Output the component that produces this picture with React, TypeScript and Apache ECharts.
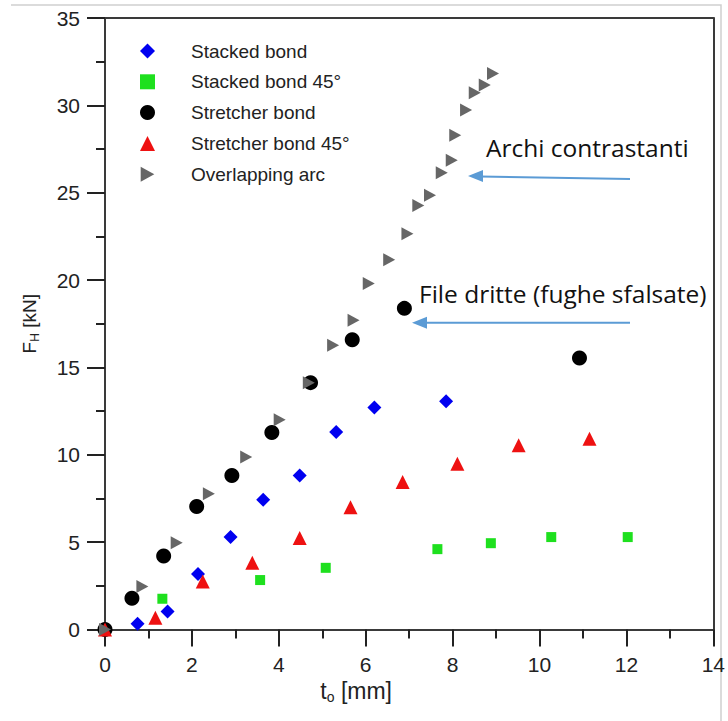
import React, { useEffect, useRef } from "react";
import * as echarts from "echarts";

const stackedBond: number[][] = [
  [0, 0], [0.75, 0.33], [1.44, 1.03], [2.14, 3.17], [2.89, 5.29], [3.64, 7.43],
  [4.48, 8.82], [5.32, 11.3], [6.2, 12.7], [7.85, 13.06],
];
const stackedBond45: number[][] = [
  [0, 0], [1.32, 1.76], [3.57, 2.83], [5.08, 3.53], [7.65, 4.6], [8.88, 4.94],
  [10.27, 5.29], [12.03, 5.29],
];
const stretcherBond: number[][] = [
  [0, 0], [0.62, 1.79], [1.35, 4.2], [2.11, 7.04], [2.92, 8.82], [3.84, 11.28],
  [4.73, 14.13], [5.69, 16.59], [6.89, 18.38], [10.92, 15.54],
];
const stretcherBond45: number[][] = [
  [0, 0], [1.16, 0.67], [2.25, 2.75], [3.39, 3.82], [4.48, 5.23], [5.65, 7.0],
  [6.85, 8.44], [8.11, 9.49], [9.52, 10.54], [11.15, 10.92],
];
const overlappingArc: number[][] = [
  [0, 0], [0.86, 2.46], [1.65, 4.97], [2.39, 7.77], [3.25, 9.87], [4.02, 12.01],
  [4.69, 14.13], [5.25, 16.27], [5.72, 17.7], [6.07, 19.8], [6.54, 21.17],
  [6.96, 22.65], [7.21, 24.27], [7.48, 24.86], [7.75, 26.14], [7.98, 26.86],
  [8.06, 28.29], [8.31, 29.73], [8.51, 30.72], [8.74, 31.16], [8.93, 31.83],
];

const seriesNames = [
  "Stacked bond",
  "Stacked bond 45°",
  "Stretcher bond",
  "Stretcher bond 45°",
  "Overlapping arc",
];

const annotations = ["Archi contrastanti", "File dritte (fughe sfalsate)"];

const RIGHT_TRI = "path://M0,0L10,5.5L0,11Z";

export default function App() {
  const ref = useRef<HTMLDivElement>(null);
  useEffect(() => {
    if (!ref.current) return;
    const chart = echarts.init(ref.current, undefined, { renderer: "svg" });
    const axisFont = "'Liberation Sans', Arial, sans-serif";
    const annFont = "'Open Sans', 'Noto Sans', sans-serif";
    const arrowColor = "#5b9bd5";
    const frame = { color: "#3a3a3a", width: 2 };
    chart.setOption({
      animation: false,
      backgroundColor: "#fff",
      grid: {
        left: 105,
        right: 13,
        top: 18,
        bottom: 91.5,
      },
      legend: {
        orient: "vertical",
        left: 135,
        top: 36,
        itemWidth: 15,
        itemHeight: 15,
        itemGap: 10.8,
        textStyle: {
          fontFamily: axisFont,
          fontSize: 19,
          color: "#222",
          lineHeight: 20,
          padding: [0, 0, 0, 31],
        },
        data: [
          { name: seriesNames[0], icon: "diamond" },
          { name: seriesNames[1], icon: "rect" },
          { name: seriesNames[2], icon: "circle" },
          { name: seriesNames[3], icon: "triangle" },
          { name: seriesNames[4], icon: RIGHT_TRI },
        ],
      },
      xAxis: [
        {
          type: "value",
          min: 0,
          max: 14,
          interval: 2,
          name: "{a|t}{b|o}{a| [mm]}",
          nameLocation: "middle",
          nameGap: 44,
          nameTextStyle: {
            padding: [0, 106, 0, 0],
            rich: {
              a: { fontFamily: axisFont, fontSize: 23, color: "#222" },
              b: { fontFamily: axisFont, fontSize: 14, color: "#222", padding: [13, 0, 0, 0] },
            },
          },
          axisLine: { onZero: false, lineStyle: frame },
          axisTick: { show: true, inside: false, length: 17, lineStyle: { color: "#222", width: 2 } },
          minorTick: { show: true, splitNumber: 2, length: 9, lineStyle: { color: "#222", width: 2 } },
          splitLine: { show: false },
          axisLabel: { margin: 24, fontFamily: axisFont, fontSize: 21, color: "#222" },
        },
        {
          type: "value",
          position: "top",
          min: 0,
          max: 14,
          axisLine: { show: true, onZero: false, lineStyle: frame },
          axisTick: { show: false },
          axisLabel: { show: false },
          splitLine: { show: false },
        },
      ],
      yAxis: [
        {
          type: "value",
          min: 0,
          max: 35,
          interval: 5,
          name: "{a|F}{b|H}{a| [kN]}",
          nameLocation: "middle",
          nameGap: 64,
          nameRotate: 90,
          nameTextStyle: {
            rich: {
              a: { fontFamily: axisFont, fontSize: 19, color: "#222" },
              b: { fontFamily: axisFont, fontSize: 12, color: "#222", padding: [11, 0, 0, 0] },
            },
          },
          axisLine: { onZero: false, lineStyle: frame },
          axisTick: { show: true, inside: false, length: 18, lineStyle: { color: "#222", width: 2 } },
          minorTick: { show: true, splitNumber: 2, length: 9, lineStyle: { color: "#222", width: 2 } },
          splitLine: { show: false },
          axisLabel: { margin: 25, fontFamily: axisFont, fontSize: 21, color: "#222" },
        },
        {
          type: "value",
          position: "right",
          min: 0,
          max: 35,
          axisLine: { show: true, onZero: false, lineStyle: frame },
          axisTick: { show: false },
          axisLabel: { show: false },
          splitLine: { show: false },
        },
      ],
      series: [
        {
          name: seriesNames[0],
          type: "scatter",
          data: stackedBond,
          symbol: "diamond",
          symbolSize: 14,
          itemStyle: { color: "#0000f0", opacity: 1 },
        },
        {
          name: seriesNames[1],
          type: "scatter",
          data: stackedBond45,
          symbol: "rect",
          symbolSize: 10,
          itemStyle: { color: "#1ee01e", opacity: 1 },
        },
        {
          name: seriesNames[2],
          type: "scatter",
          data: stretcherBond,
          symbol: "circle",
          symbolSize: 15,
          itemStyle: { color: "#000000", opacity: 1 },
        },
        {
          name: seriesNames[3],
          type: "scatter",
          data: stretcherBond45,
          symbol: "triangle",
          symbolSize: 14,
          itemStyle: { color: "#ee1111", opacity: 1 },
        },
        {
          name: seriesNames[4],
          type: "scatter",
          data: overlappingArc,
          symbol: RIGHT_TRI,
          symbolSize: [12, 13],
          itemStyle: { color: "#666666", opacity: 1 },
        },
      ],
      graphic: [
        {
          type: "polyline",
          shape: { points: [[11, 5], [721, 5], [721, 721]] },
          style: { stroke: "#cfcfcf", lineWidth: 1.5, fill: null },
          silent: true,
        },
        {
          type: "text",
          x: 486,
          y: 135,
          style: { text: annotations[0], fontFamily: annFont, fontSize: 24.5, fill: "#111" },
        },
        {
          type: "text",
          x: 419,
          y: 281,
          style: { text: annotations[1], fontFamily: annFont, fontSize: 24.5, fill: "#111" },
        },
        {
          type: "line",
          shape: { x1: 630, y1: 179, x2: 480, y2: 176.5 },
          style: { stroke: arrowColor, lineWidth: 2 },
        },
        {
          type: "polygon",
          shape: { points: [[468, 176], [483, 170], [483, 182]] },
          style: { fill: arrowColor },
        },
        {
          type: "line",
          shape: { x1: 630, y1: 322.7, x2: 424, y2: 322.7 },
          style: { stroke: arrowColor, lineWidth: 2 },
        },
        {
          type: "polygon",
          shape: { points: [[412, 322.7], [427, 316.7], [427, 328.7]] },
          style: { fill: arrowColor },
        },
      ],
    });
    return () => chart.dispose();
  }, []);
  return (
    <div
      ref={ref}
      style={{ position: "absolute", left: 0, top: 0, width: 728, height: 721 }}
    />
  );
}
